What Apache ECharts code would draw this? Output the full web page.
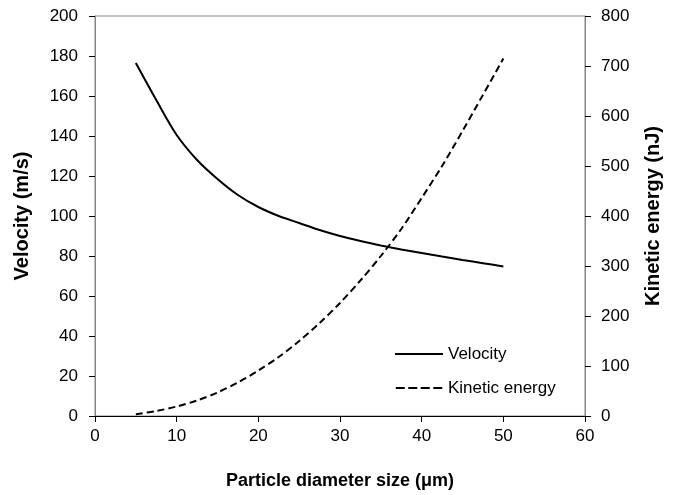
<!DOCTYPE html>
<html><head><meta charset="utf-8">
<script src="https://cdn.jsdelivr.net/npm/echarts@6/dist/echarts.min.js"></script>
<style>html,body{margin:0;padding:0;background:#fff}#c{width:681px;height:495px}</style>
</head><body><div id="c"></div>
<script>
const diameter = [5, 7.5, 10, 12.5, 15, 17.5, 20, 22.5, 25, 27.5, 30, 32.5, 35, 37.5, 40, 42.5, 45, 47.5, 50];
const velocity = [176.5, 158, 140.5, 128, 118.5, 110.5, 104.5, 100, 96.5, 93, 90, 87.5, 85.3, 83.3, 81.5, 79.7, 78, 76.4, 74.8];
const kineticEnergy = [3.5, 10, 19, 31, 47, 67, 91, 118, 150, 186, 226, 271, 320, 374, 436, 500, 570, 642, 715];
const xTicks = [0, 10, 20, 30, 40, 50, 60];
const velocityTicks = [0, 20, 40, 60, 80, 100, 120, 140, 160, 180, 200];
const energyTicks = [0, 100, 200, 300, 400, 500, 600, 700, 800];

const font = 'Liberation Sans, Arial, sans-serif';
const chart = echarts.init(document.getElementById('c'), null, {renderer: 'canvas'});
chart.setOption({
  animation: false,
  grid: {left: 95, right: 96, top: 16, bottom: 77, show: true, borderColor: '#868686', borderWidth: 1},
  legend: {
    orient: 'vertical', left: 390, top: 339, itemWidth: 48, itemHeight: 2, itemGap: 14,
    textStyle: {fontFamily: font, fontSize: 17, color: '#000', lineHeight: 20},
    data: [
      {name: 'Velocity', icon: 'path://M0,0h48v2h-48z'},
      {name: 'Kinetic energy', icon: 'path://M0,0h9v2h-9z M12.5,0h9v2h-9z M25,0h9v2h-9z M37.5,0h9v2h-9z'}
    ]
  },
  xAxis: {
    type: 'value', min: xTicks[0], max: xTicks[xTicks.length - 1], interval: 10,
    name: 'Particle diameter size (μm)', nameLocation: 'middle', nameGap: 56,
    nameTextStyle: {fontFamily: font, fontSize: 18, fontWeight: 'bold', color: '#000'},
    axisLine: {lineStyle: {color: '#000', width: 1}},
    axisTick: {show: true, length: 6, lineStyle: {color: '#000'}},
    axisLabel: {fontFamily: font, fontSize: 17, color: '#000', margin: 12},
    splitLine: {show: false}
  },
  yAxis: [{
    type: 'value', min: velocityTicks[0], max: velocityTicks[velocityTicks.length - 1], interval: 20, position: 'left',
    name: 'Velocity (m/s)', nameLocation: 'middle', nameGap: 63, nameRotate: 90,
    nameTextStyle: {fontFamily: font, fontSize: 20, fontWeight: 'bold', color: '#000'},
    axisLine: {show: true, lineStyle: {color: '#868686'}},
    axisTick: {show: true, length: 6, lineStyle: {color: '#000'}},
    axisLabel: {fontFamily: font, fontSize: 17, color: '#000', margin: 17},
    splitLine: {show: false}
  }, {
    type: 'value', min: energyTicks[0], max: energyTicks[energyTicks.length - 1], interval: 100, position: 'right',
    name: 'Kinetic energy (nJ)', nameLocation: 'middle', nameGap: 58, nameRotate: 90,
    nameTextStyle: {fontFamily: font, fontSize: 20, fontWeight: 'bold', color: '#000'},
    axisLine: {show: true, lineStyle: {color: '#868686'}},
    axisTick: {show: true, length: 6, lineStyle: {color: '#000'}},
    axisLabel: {fontFamily: font, fontSize: 17, color: '#000', margin: 16},
    splitLine: {show: false}
  }],
  series: [{
    name: 'Velocity', type: 'line', yAxisIndex: 0, smooth: 0.3, symbol: 'none',
    lineStyle: {color: '#000', width: 2, type: 'solid'},
    itemStyle: {color: '#000'},
    data: diameter.map((d, i) => [d, velocity[i]])
  }, {
    name: 'Kinetic energy', type: 'line', yAxisIndex: 1, smooth: 0.3, symbol: 'none',
    lineStyle: {color: '#000', width: 2, type: [7, 4]},
    itemStyle: {color: '#000'},
    data: diameter.map((d, i) => [d, kineticEnergy[i]])
  }]
});
</script></body></html>
